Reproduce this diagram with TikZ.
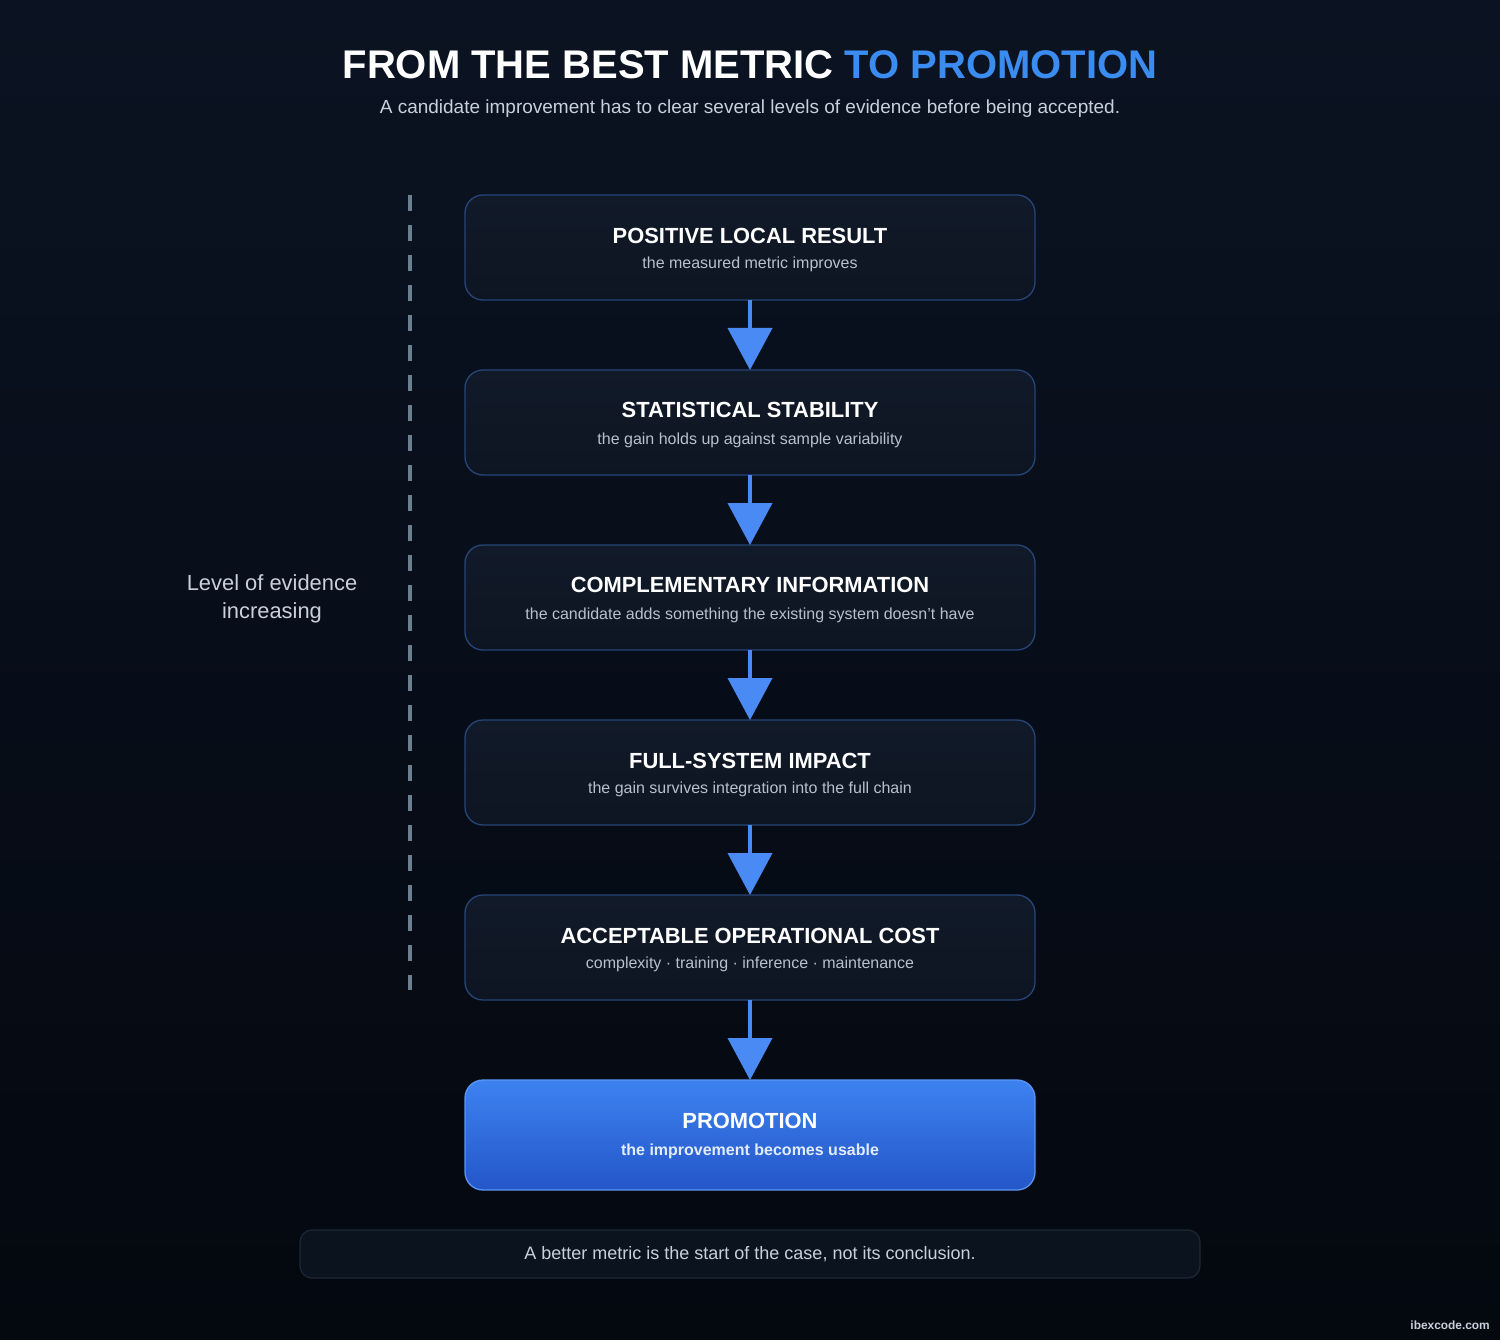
\documentclass[tikz,border=0pt]{standalone}
\usepackage{fontspec}
\setmainfont{Liberation Sans}
\usetikzlibrary{arrows.meta}
\definecolor{bgtop}{HTML}{0B1322}
\definecolor{bgbot}{HTML}{04080F}
\definecolor{boxfilltop}{HTML}{111A29}
\definecolor{boxfill}{HTML}{0E1522}
\definecolor{boxborder}{HTML}{264578}
\definecolor{accent}{HTML}{3B8CF0}
\definecolor{arrowc}{HTML}{4A8AF4}
\definecolor{subtxt}{HTML}{B8C0CC}
\definecolor{lighttxt}{HTML}{C8D0DC}
\definecolor{dashc}{HTML}{6B7F8F}
\definecolor{promtop}{HTML}{3D82F0}
\definecolor{prombot}{HTML}{2456C8}
\definecolor{promborder}{HTML}{5A95F5}
\definecolor{notefill}{HTML}{0B131F}
\definecolor{noteborder}{HTML}{1C2838}
\begin{document}
\begin{tikzpicture}[x=1pt,y=-1pt,
  stagebox/.style={draw=boxborder, line width=1.3pt, rounded corners=18pt,
    minimum width=570pt, minimum height=105pt, outer sep=0pt, inner sep=0pt,
    top color=boxfilltop, bottom color=boxfill},
  promobox/.style={draw=promborder, line width=1.3pt, rounded corners=18pt,
    minimum width=570pt, minimum height=110pt, outer sep=0pt, inner sep=0pt,
    top color=promtop, bottom color=prombot},
  stagetitle/.style={anchor=base, text=white, font=\fontsize{21.9}{26}\selectfont\bfseries, inner sep=0pt},
  stagesub/.style={anchor=base, text=subtxt, font=\fontsize{16}{19}\selectfont, inner sep=0pt},
  flow/.style={draw=arrowc, line width=4pt, -{Triangle[width=44pt,length=42pt]}, shorten >=0pt},
]
\shade[top color=bgtop, bottom color=bgbot] (0,0) rectangle (1500,1340);
\useasboundingbox (0,0) rectangle (1500,1340);

% title
\node[anchor=base, inner sep=0pt, font=\fontsize{40}{46}\selectfont\bfseries] (title) at (750,79)
  {\textcolor{white}{FROM THE BEST METRIC} \textcolor{accent}{TO PROMOTION}};
\node[anchor=base, inner sep=0pt, text=lighttxt, font=\fontsize{19}{23}\selectfont] (subtitle) at (750,114)
  {A candidate improvement has to clear several levels of evidence before being accepted.};

% dashed evidence line
\coordinate (dtop) at (410,195);
\coordinate (dbot) at (410,990);
\draw[dashc, line width=4pt, dash pattern=on 16pt off 14pt] (dtop) -- (dbot);
\node[align=center, text=lighttxt, font=\fontsize{21.9}{28}\selectfont, inner sep=0pt] (evid) at (272,599)
  {Level of evidence\\increasing};

% stages
\node[stagebox] (b1) at (750,247.5) {};
\node[stagebox] (b2) at (750,422.5) {};
\node[stagebox] (b3) at (750,597.5) {};
\node[stagebox] (b4) at (750,772.5) {};
\node[stagebox] (b5) at (750,947.5) {};
\node[promobox] (b6) at (750,1135) {};

\node[stagetitle] (t1) at (750,243.5) {POSITIVE LOCAL RESULT};
\node[stagesub] (s1) at (750,268.5) {the measured metric improves};
\node[stagetitle] (t2) at (750,417.5) {STATISTICAL STABILITY};
\node[stagesub] (s2) at (750,444) {the gain holds up against sample variability};
\node[stagetitle] (t3) at (750,592.5) {COMPLEMENTARY INFORMATION};
\node[stagesub] (s3) at (750,619) {the candidate adds something the existing system doesn’t have};
\node[stagetitle] (t4) at (750,768.5) {FULL-SYSTEM IMPACT};
\node[stagesub] (s4) at (750,793) {the gain survives integration into the full chain};
\node[stagetitle] (t5) at (750,943.5) {ACCEPTABLE OPERATIONAL COST};
\node[stagesub] (s5) at (750,968.5) {complexity · training · inference · maintenance};
\node[stagetitle] (t6) at (750,1128) {PROMOTION};
\node[stagesub, text=white!85!promtop, font=\fontsize{16}{19}\selectfont\bfseries] (s6) at (750,1155) {the improvement becomes usable};

\draw[flow] (b1.south) -- (b2.north);
\draw[flow] (b2.south) -- (b3.north);
\draw[flow] (b3.south) -- (b4.north);
\draw[flow] (b4.south) -- (b5.north);
\draw[flow] (b5.south) -- (b6.north);

% note
\node[draw=noteborder, line width=1.2pt, fill=notefill, rounded corners=12pt,
  minimum width=900pt, minimum height=48pt, inner sep=0pt,
  text=lighttxt, font=\fontsize{18}{22}\selectfont] (note) at (750,1254)
  {A better metric is the start of the case, not its conclusion.};

\node[anchor=base east, inner sep=0pt, text=lighttxt, font=\fontsize{11.9}{14}\selectfont\bfseries] (wm) at (1490,1329) {ibexcode.com};
\end{tikzpicture}
\end{document}
